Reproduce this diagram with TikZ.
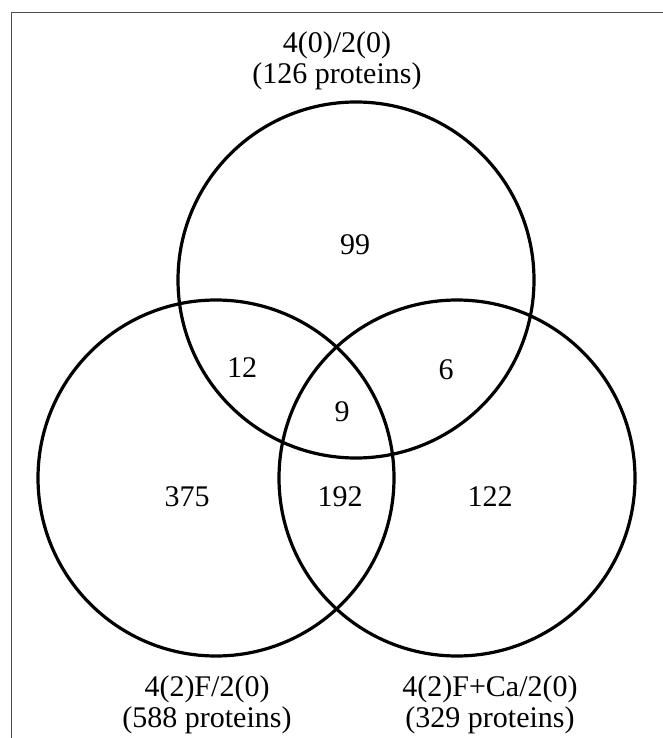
\documentclass[tikz,border=0pt]{standalone}
\usepackage{fontspec}
\setmainfont{Liberation Serif}

\begin{document}
\begin{tikzpicture}[x=1pt,y=-1pt,
    set/.style={draw, circle, line width=3.2pt, minimum size=356pt, inner sep=0pt},
    count/.style={font=\fontsize{30}{31}\selectfont},
    setlabel/.style={font=\fontsize{30}{31}\selectfont, align=center}]
  \useasboundingbox (0,0) rectangle (663,738);

  % Frame (top and left edges only)
  \draw[black!70, line width=1pt] (11,738) -- (11,13) -- (663,13);

  % The three sets
  \node[set] (settop) at (356,280) {};
  \node[set] (setleft) at (216,478) {};
  \node[set] (setright) at (457,478) {};

  % Set names
  \node[setlabel] (labtop) at (337,61) {4(0)/2(0)\\(126 proteins)};
  \node[setlabel] (lableft) at (207,705) {4(2)F/2(0)\\(588 proteins)};
  \node[setlabel] (labright) at (490,705) {4(2)F+Ca/2(0)\\(329 proteins)};

  % Counts in each region
  \node[count] (ntop) at (355,245) {99};
  \node[count] (ntopleft) at (242,368) {12};
  \node[count] (ntopright) at (446,370) {6};
  \node[count] (nall) at (342,412) {9};
  \node[count] (nleft) at (187,497) {375};
  \node[count] (nleftright) at (340,497) {192};
  \node[count] (nright) at (490,497) {122};
\end{tikzpicture}
\end{document}
